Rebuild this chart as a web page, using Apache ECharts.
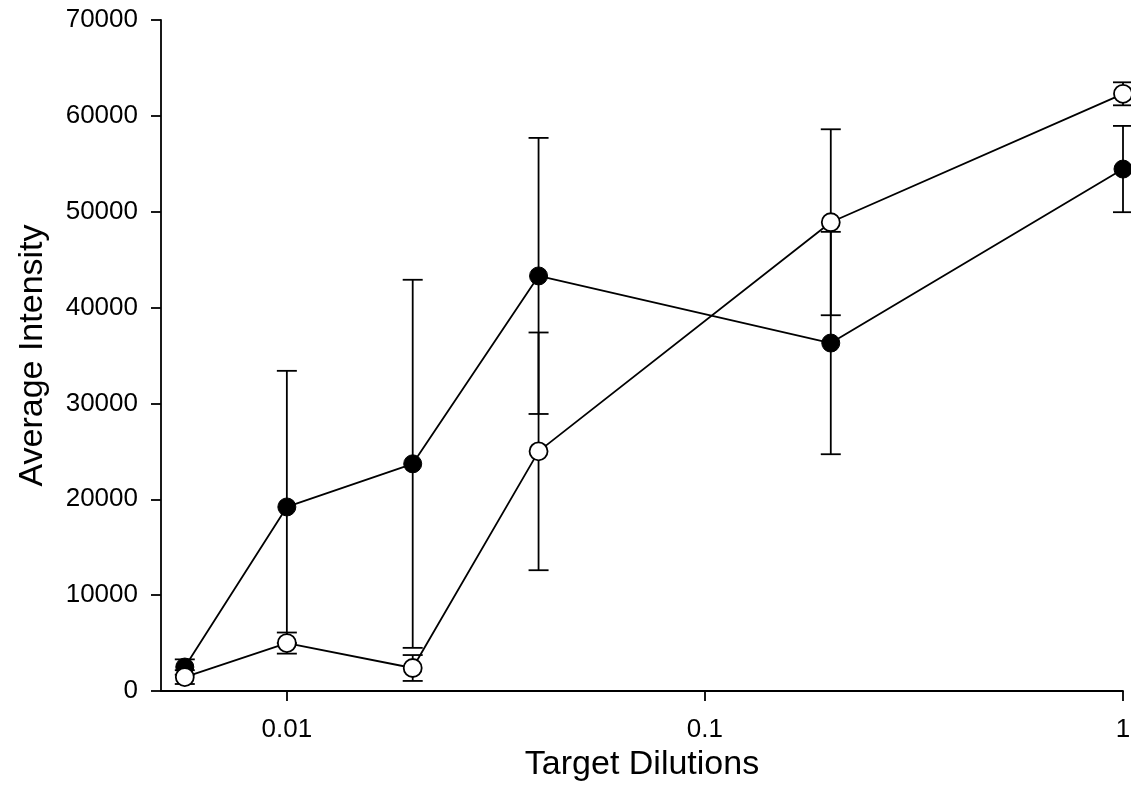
<!DOCTYPE html>
<html>
<head>
<meta charset="utf-8">
<script src="https://cdn.jsdelivr.net/npm/echarts@6/dist/echarts.min.js"></script>
<style>html,body{margin:0;padding:0;background:#fff}#c{width:1131px;height:807px}</style>
</head>
<body>
<div id="c"></div>
<script>
// Data
const dilutions = [0.0057, 0.01, 0.02, 0.04, 0.2, 1];
const filledMean = [2500, 19200, 23700, 43300, 36300, 54450];
const filledErr  = [800, 14200, 19200, 14400, 11600, 4500];
const openMean   = [1450, 5000, 2400, 25000, 48900, 62300];
const openErr    = [720, 1100, 1350, 12400, 9700, 1200];
const xTicks = [0.01, 0.1, 1];
const yMin = 0, yMax = 70000, yStep = 10000;

const font = "'Liberation Sans', Arial, sans-serif";
const filledData = dilutions.map((d, i) => [d, filledMean[i]]);
const openData = dilutions.map((d, i) => [d, openMean[i]]);
const errData = [];
dilutions.forEach((d, i) => {
  errData.push([d, filledMean[i] - filledErr[i], filledMean[i] + filledErr[i]]);
  errData.push([d, openMean[i] - openErr[i], openMean[i] + openErr[i]]);
});

const chart = echarts.init(document.getElementById('c'), null, {renderer: 'canvas'});
chart.setOption({
  animation: false,
  backgroundColor: '#fff',
  grid: {left: 161, right: 8, top: 20, bottom: 116, containLabel: false, outerBoundsMode: 'none'},
  xAxis: {
    type: 'log', logBase: 10, min: 0.005, max: 1,
    name: 'Target Dilutions', nameLocation: 'middle', nameGap: 51,
    nameTextStyle: {fontFamily: font, fontSize: 34, color: '#000'},
    axisLine: {lineStyle: {color: '#000', width: 1.8}},
    axisTick: {show: true, inside: false, length: 10, lineStyle: {color: '#000', width: 1.8}, customValues: xTicks},
    axisLabel: {fontFamily: font, fontSize: 26, color: '#000', margin: 26, customValues: xTicks,
      formatter: v => String(+(+v).toPrecision(6))},
    splitLine: {show: false}, minorTick: {show: false}
  },
  yAxis: {
    type: 'value', min: yMin, max: yMax, interval: yStep,
    name: 'Average Intensity', nameLocation: 'middle', nameGap: 111,
    nameTextStyle: {fontFamily: font, fontSize: 34, color: '#000'},
    axisLine: {show: true, lineStyle: {color: '#000', width: 1.8}},
    axisTick: {show: true, inside: false, length: 10, lineStyle: {color: '#000', width: 1.8}},
    axisLabel: {fontFamily: font, fontSize: 26, color: '#000', margin: 23, formatter: v => String(v)},
    splitLine: {show: false}
  },
  series: [
    {
      type: 'custom', z: 1,
      data: errData,
      encode: {x: 0, y: [1, 2]},
      clip: false,
      renderItem: function (params, api) {
        const x = api.value(0), lo = api.value(1), hi = api.value(2);
        const a = api.coord([x, lo]), b = api.coord([x, hi]);
        const hw = 10;
        const st = {stroke: '#000', lineWidth: 1.8};
        return {type: 'group', children: [
          {type: 'line', shape: {x1: a[0], y1: a[1], x2: b[0], y2: b[1]}, style: st},
          {type: 'line', shape: {x1: a[0] - hw, y1: a[1], x2: a[0] + hw, y2: a[1]}, style: st},
          {type: 'line', shape: {x1: b[0] - hw, y1: b[1], x2: b[0] + hw, y2: b[1]}, style: st}
        ]};
      }
    },
    {
      type: 'line', z: 2, data: filledData, symbol: 'circle', symbolSize: 18,
      lineStyle: {color: '#000', width: 1.8},
      itemStyle: {color: '#000', borderColor: '#000', borderWidth: 1},
      clip: false
    },
    {
      type: 'line', z: 3, data: openData, symbol: 'circle', symbolSize: 18,
      lineStyle: {color: '#000', width: 1.8},
      itemStyle: {color: '#fff', borderColor: '#000', borderWidth: 1.8},
      clip: false
    }
  ]
});
</script>
</body>
</html>
